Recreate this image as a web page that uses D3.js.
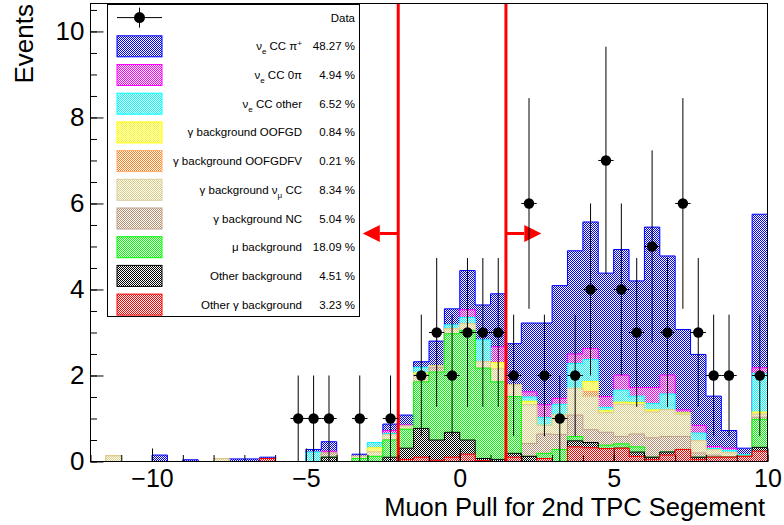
<!DOCTYPE html>
<html>
<head>
<meta charset="utf-8">
<script src="https://cdn.jsdelivr.net/npm/d3@7"></script>
<style>
  body { margin: 0; background: #fff; }
  svg { display: block; }
  text { font-family: "Liberation Sans", Arial, Helvetica, sans-serif; fill: #000; }
</style>
</head>
<body>
<svg id="chart" width="784" height="525"></svg>
<script>
// Histogram binning: 44 bins of width 0.5 from -12 to 10
const binLow = -12;
const binWidth = 0.5;
const nBins = 44;

// Stacked MC components (events per bin), listed bottom of stack first
const otherGammaBkg = [0,0,0,0,0,0,0,0,0,0, 0,0.07,0,0,0,0,0,0,0,0, 0.05,0.1,0.03,0.1,0.17,0.02,0,0.1,0,0.07, 0,0.34,0.32,0.3,0.31,0.12,0.05,0.15,0.28,0.05, 0.1,0.1,0.12,0.24];
const otherBkg      = [0,0,0,0,0,0,0,0,0,0, 0,0,0,0,0,0.1,0,0,0,0.1, 0.26,0.67,0.47,0.58,0.33,0.05,0.05,0.09,0.12,0, 0,0.14,0.12,0,0,0.1,0.05,0.07,0,0.05, 0,0,0,0.09];
const muBkg         = [0,0,0,0,0,0,0,0,0,0, 0,0,0,0,0,0,0,0.07,0.12,0.4, 0.44,1.08,1.58,2.29,2.55,2.1,1.8,1.32,0,0.12, 0.28,0.1,0,0.08,0.1,0.12,0,0,0,0, 0,0,0,0.65];
const gammaNC       = [0,0,0,0,0,0,0,0,0,0, 0,0,0,0,0,0.1,0,0,0,0, 0,0,0.1,0,0,0,0,0,0.3,0.45, 0.35,0.5,0.3,0.3,0.17,0.3,0.45,0.36,0.3,0.1, 0.05,0,0,0.05];
const gammaNumuCC   = [0,0.13,0,0,0,0,0,0,0.06,0, 0,0,0,0,0,0,0,0.05,0.1,0.12, 0.07,0.17,0.04,0.11,0.15,0.15,0.3,0.27,0.9,0.2, 0.45,0.62,0.77,0.45,0.75,0.68,0.6,0.62,0.52,0.28, 0.12,0.1,0,0.07];
const gammaOOFGDFV  = [0,0,0,0,0,0,0,0,0,0, 0,0,0,0,0,0,0,0,0,0, 0,0,0,0,0,0,0,0,0,0, 0,0,0.12,0,0,0,0,0,0,0, 0,0,0,0];
const gammaOOFGD    = [0,0,0,0,0,0,0,0,0,0, 0,0,0,0,0,0,0,0,0.1,0, 0,0.04,0,0,0,0,0.15,0,0.08,0, 0,0,0.23,0.05,0.05,0.05,0.05,0,0.03,0, 0,0,0,0.05];
const nueCCOther    = [0,0,0,0,0,0,0,0,0,0, 0,0,0,0,0.22,0,0,0,0.12,0.03, 0,0.13,0,0.1,0.15,0.51,0,0,0.1,0.18, 0.25,0.58,0.51,0.08,0.28,0.15,0.15,0.37,0,0.18, 0.03,0.06,0.04,0.9];
const nueCC0pi      = [0,0,0,0,0,0,0,0,0,0, 0,0,0,0,0,0.04,0,0,0,0.07, 0.03,0,0,0,0.18,0,0.37,0,0.12,0.3, 0.14,0.22,0.26,0.25,0.35,0.2,0.37,0.44,0.07,0.18, 0.05,0.05,0,0.13];
const nueCCpi       = [0,0,0,0,0.15,0,0.04,0,0,0.06, 0.06,0.03,0,0,0.06,0.22,0,0.05,0,0.15, 0.23,0.13,0.58,0.37,0.91,0.81,1.23,0.96,1.6,1.9, 2.62,2.4,2.94,2.87,2.92,2.48,3.73,2.77,1.87,1.65, 1.17,0.41,0.15,3.57];

// Observed data counts per bin
const dataCounts = [0,0,0,0,0,0,0,0,0,0, 0,0,0,1,1,1,0,1,0,1, 0,2,3,2,3,3,3,2,6,2, 1,2,4,7,4,3,5,3,6,3, 2,2,0,2];

// Legend labels and fractions (top of stack first in the legend)
const legendLabels = ["νe CC π+", "νe CC 0π", "νe CC other", "γ background OOFGD", "γ background OOFGDFV",
                      "γ background νμ CC", "γ background NC", "μ background", "Other background", "Other γ background"];
const legendPercents = ["48.27 %", "4.94 %", "6.52 %", "0.84 %", "0.21 %", "8.34 %", "5.04 %", "18.09 %", "4.51 %", "3.23 %"];

// Selection cuts and their arrows
const cutValues = [-2, 1.5];
const cutDirections = [-1, 1];
const arrowLength = 1.15;
const arrowLevel = 5.3;

// Axis ticks
const xMajorTicks = [-10, -5, 0, 5, 10];
const xMinorTicks = d3.range(-12, 10.01, 1);
const yMajorTicks = [0, 2, 4, 6, 8, 10];
const yMinorTicks = d3.range(0, 10.51, 0.5);

// Stack styling, bottom first
const stackStyle = [
  { values: otherGammaBkg, fill: "#ff0000", line: "#ff0000" },
  { values: otherBkg,      fill: "#000000", line: "#000000" },
  { values: muBkg,         fill: "#00ff00", line: "#00ff00" },
  { values: gammaNC,       fill: "#b89070", line: "#c0a08c" },
  { values: gammaNumuCC,   fill: "#d9cc80", line: "#d8d0a0" },
  { values: gammaOOFGDFV,  fill: "#ff8020", line: "#ffaa66" },
  { values: gammaOOFGD,    fill: "#ffff00", line: "#ffff00" },
  { values: nueCCOther,    fill: "#00ffff", line: "#00ffff" },
  { values: nueCC0pi,      fill: "#ff00ff", line: "#ff00ff" },
  { values: nueCCpi,       fill: "#0000ff", line: "#0000ff" }
];

const svg = d3.select("#chart");
const frame = { left: 90.5, right: 767.5, top: 3.5, bottom: 461.5 };

const x = d3.scaleLinear().domain([binLow, binLow + nBins * binWidth]).range([frame.left, frame.right]);
const y = d3.scaleLinear().domain([0, 10.65]).range([frame.bottom, frame.top]);

// Dotted fill patterns
const defs = svg.append("defs");
stackStyle.forEach((s, k) => {
  const p = defs.append("pattern").attr("id", "pat" + k)
    .attr("width", 2).attr("height", 2).attr("patternUnits", "userSpaceOnUse");
  p.append("rect").attr("width", 2).attr("height", 2).attr("fill", "#fff");
  p.append("rect").attr("x", 0).attr("y", 0).attr("width", 1).attr("height", 1).attr("fill", s.fill);
  p.append("rect").attr("x", 1).attr("y", 1).attr("width", 1).attr("height", 1).attr("fill", s.fill);
});
defs.append("clipPath").attr("id", "plotClip").append("rect")
  .attr("x", frame.left).attr("y", frame.top)
  .attr("width", frame.right - frame.left).attr("height", frame.bottom - frame.top);

// Cumulative sums for the stack
const cumulative = [];
stackStyle.forEach((s, k) => {
  cumulative.push(s.values.map((v, i) => v + (k > 0 ? cumulative[k - 1][i] : 0)));
});

const plotG = svg.append("g").attr("clip-path", "url(#plotClip)");
const line = d3.line();

function stepPoints(vals) {
  const pts = [[x(binLow), y(0)]];
  vals.forEach((v, i) => {
    const lo = binLow + i * binWidth;
    pts.push([x(lo), y(v)], [x(lo + binWidth), y(v)]);
  });
  pts.push([x(binLow + nBins * binWidth), y(0)]);
  return pts;
}

// Draw from the top of the stack downward so lower components overlay
for (let k = stackStyle.length - 1; k >= 0; k--) {
  const pts = stepPoints(cumulative[k]);
  plotG.append("path").attr("d", line(pts) + "Z")
    .attr("fill", "url(#pat" + k + ")").attr("stroke", "none");
  plotG.append("path").attr("d", line(pts))
    .attr("fill", "none").attr("stroke", stackStyle[k].line).attr("stroke-width", 1);
}

// Cut lines with arrows
cutValues.forEach((c, j) => {
  plotG.append("line")
    .attr("x1", x(c)).attr("x2", x(c)).attr("y1", y(0)).attr("y2", frame.top)
    .attr("stroke", "#ff0000").attr("stroke-width", 3);
  const tip = x(c + cutDirections[j] * arrowLength);
  const base = tip - cutDirections[j] * 17;
  const ay = y(arrowLevel);
  plotG.append("line")
    .attr("x1", x(c)).attr("x2", base).attr("y1", ay).attr("y2", ay)
    .attr("stroke", "#ff0000").attr("stroke-width", 3);
  plotG.append("path")
    .attr("d", line([[tip, ay], [base, ay - 8.5], [base, ay + 8.5]]) + "Z")
    .attr("fill", "#ff0000");
});

// Data points with error bars
const dataPoints = dataCounts.map((n, i) => ({ c: binLow + (i + 0.5) * binWidth, n }))
  .filter(d => d.n > 0);
const dataG = plotG.append("g");
dataPoints.forEach(d => {
  const e = Math.sqrt(d.n);
  dataG.append("line").attr("x1", x(d.c)).attr("x2", x(d.c))
    .attr("y1", y(d.n - e)).attr("y2", y(d.n + e))
    .attr("stroke", "#000").attr("stroke-width", 1);
  dataG.append("line").attr("x1", x(d.c - binWidth / 2)).attr("x2", x(d.c + binWidth / 2))
    .attr("y1", y(d.n)).attr("y2", y(d.n))
    .attr("stroke", "#000").attr("stroke-width", 1);
  dataG.append("circle").attr("cx", x(d.c)).attr("cy", y(d.n)).attr("r", 5.2).attr("fill", "#000");
});

// Frame
svg.append("rect")
  .attr("x", frame.left).attr("y", frame.top)
  .attr("width", frame.right - frame.left).attr("height", frame.bottom - frame.top)
  .attr("fill", "none").attr("stroke", "#000").attr("stroke-width", 1);

// Axes
function styleAxis(g, size) {
  g.select(".domain").remove();
  g.selectAll(".tick line").attr("stroke", "#000");
  g.selectAll("text").attr("font-size", size).attr("font-family", '"Liberation Sans", Arial, sans-serif');
}
svg.append("g").attr("transform", `translate(0,${frame.bottom})`)
  .call(d3.axisBottom(x).tickValues(xMinorTicks).tickSize(-6.5).tickFormat(""))
  .call(styleAxis, 25);
svg.append("g").attr("transform", `translate(0,${frame.bottom})`)
  .call(d3.axisBottom(x).tickValues(xMajorTicks).tickSize(-13).tickPadding(8))
  .call(styleAxis, 25);
svg.append("g").attr("transform", `translate(${frame.left},0)`)
  .call(d3.axisLeft(y).tickValues(yMinorTicks).tickSize(-6.5).tickFormat(""))
  .call(styleAxis, 26);
svg.append("g").attr("transform", `translate(${frame.left},0)`)
  .call(d3.axisLeft(y).tickValues(yMajorTicks).tickSize(-13).tickPadding(6))
  .call(styleAxis, 26);

// Axis titles
svg.append("text").attr("x", 765).attr("y", 516).attr("text-anchor", "end")
  .attr("font-size", 25.5).text("Muon Pull for 2nd TPC Segement");
svg.append("text").attr("transform", "translate(33,4) rotate(-90)").attr("text-anchor", "end")
  .attr("font-size", 26).text("Events");

// Legend
const leg = svg.append("g");
leg.append("rect").attr("x", 107.5).attr("y", 4.5).attr("width", 252).attr("height", 312)
  .attr("fill", "#fff").attr("stroke", "#000").attr("stroke-width", 1);
const rowY = k => 17.6 + 28.7 * k;
const fs = 11.5;

// Data entry
leg.append("line").attr("x1", 117).attr("x2", 162).attr("y1", rowY(0)).attr("y2", rowY(0)).attr("stroke", "#000");
leg.append("line").attr("x1", 139.5).attr("x2", 139.5).attr("y1", rowY(0) - 10).attr("y2", rowY(0) + 10).attr("stroke", "#000");
leg.append("circle").attr("cx", 139.5).attr("cy", rowY(0)).attr("r", 5.5).attr("fill", "#000");
leg.append("text").attr("x", 355).attr("y", rowY(0) + 4).attr("text-anchor", "end").attr("font-size", fs).text("Data");

function writeLabel(t, label) {
  // ν with a subscript flavour, π with a superscript charge
  const m = label.match(/^(.*?)ν([eμ])(.*)$/);
  if (m) {
    if (m[1]) t.append("tspan").text(m[1]);
    t.append("tspan").text("ν");
    t.append("tspan").attr("font-size", fs * 0.7).attr("dy", 4).text(m[2]);
    let rest = m[3];
    if (rest.endsWith("π+")) {
      t.append("tspan").attr("dy", -4).text(rest.slice(0, -1));
      t.append("tspan").attr("font-size", fs * 0.7).attr("dy", -4).text("+");
    } else {
      t.append("tspan").attr("dy", -4).text(rest);
    }
  } else {
    t.text(label);
  }
}

legendLabels.forEach((label, j) => {
  const k = stackStyle.length - 1 - j;
  const cy = rowY(j + 1);
  leg.append("rect").attr("x", 117).attr("y", cy - 10.5).attr("width", 45).attr("height", 21)
    .attr("fill", "url(#pat" + k + ")").attr("stroke", stackStyle[k].line).attr("stroke-width", 1);
  const t = leg.append("text").attr("x", 302).attr("y", cy + 4).attr("text-anchor", "end").attr("font-size", fs);
  writeLabel(t, label);
  leg.append("text").attr("x", 355).attr("y", cy + 4).attr("text-anchor", "end").attr("font-size", fs)
    .text(legendPercents[j]);
});
</script>
</body>
</html>
